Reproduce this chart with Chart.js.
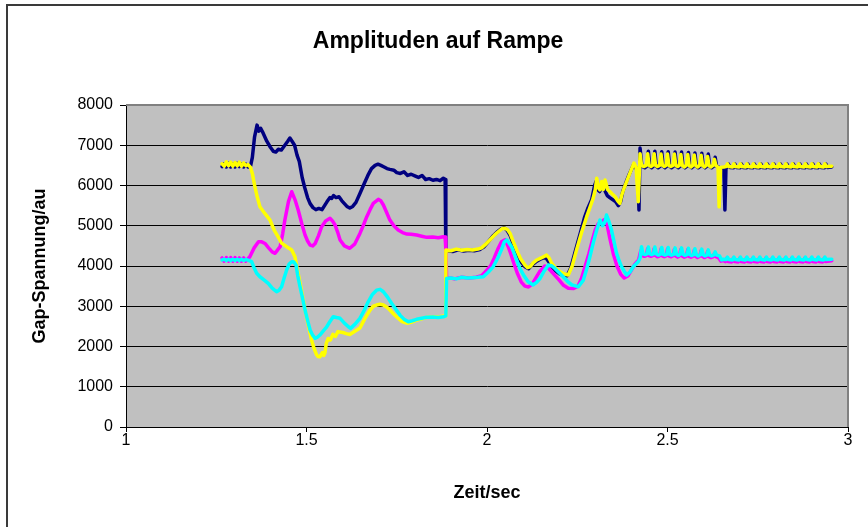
<!DOCTYPE html>
<html>
<head>
<meta charset="utf-8">
<script src="https://cdn.jsdelivr.net/npm/chart.js@4/dist/chart.umd.min.js"></script>
<style>
html,body{margin:0;padding:0;background:#fff;}
canvas{display:block;}
</style>
</head>
<body>
<canvas id="c" width="868" height="527"></canvas>
<script>
// ---- Data (time in s, amplitude in au) ----
const titleText = "Amplituden auf Rampe";
const xAxisTitle = "Zeit/sec";
const yAxisTitle = "Gap-Spannung/au";
const xTicks = [1, 1.5, 2, 2.5, 3];
const yTicks = [0, 1000, 2000, 3000, 4000, 5000, 6000, 7000, 8000];

const seriesNavy = [
 [1.266,6470],[1.272,6540],[1.278,6460],[1.284,6550],[1.290,6460],[1.296,6540],[1.302,6460],[1.308,6550],
 [1.314,6470],[1.320,6540],[1.326,6460],[1.332,6530],[1.338,6460],[1.345,6480],[1.350,6700],[1.356,7200],
 [1.363,7500],[1.368,7350],[1.373,7420],[1.380,7300],[1.390,7100],[1.400,6950],[1.408,6850],[1.415,6830],
 [1.422,6900],[1.430,6880],[1.440,7000],[1.448,7100],[1.454,7180],[1.460,7100],[1.467,7000],[1.474,6750],
 [1.480,6600],[1.488,6200],[1.495,5950],[1.503,5700],[1.510,5550],[1.518,5450],[1.526,5400],[1.534,5430],
 [1.543,5400],[1.550,5500],[1.557,5600],[1.565,5700],[1.570,5680],[1.575,5750],[1.582,5700],[1.590,5720],
 [1.598,5620],[1.605,5550],[1.612,5480],[1.620,5440],[1.628,5480],[1.637,5580],[1.648,5800],[1.660,6050],
 [1.670,6250],[1.680,6420],[1.690,6500],[1.698,6530],[1.706,6500],[1.715,6460],[1.723,6420],[1.731,6400],
 [1.742,6380],[1.750,6320],[1.760,6300],[1.770,6340],[1.780,6250],[1.790,6280],[1.800,6240],[1.810,6200],
 [1.820,6250],[1.830,6150],[1.840,6170],[1.850,6130],[1.860,6150],[1.870,6120],[1.879,6180],[1.884,6150],
 [1.886,4350],[1.890,4380],[1.905,4360],[1.920,4400],[1.935,4370],[1.950,4390],[1.965,4380],[1.980,4410],
 [1.992,4480],[2.005,4620],[2.018,4760],[2.030,4860],[2.040,4930],[2.048,4950],[2.056,4880],[2.064,4760],
 [2.073,4550],[2.082,4330],[2.093,4120],[2.105,3980],[2.115,3930],[2.125,4030],[2.138,4120],[2.150,4180],
 [2.162,4220],[2.170,4120],[2.178,4000],[2.190,3880],[2.202,3800],[2.214,3760],[2.222,3760],[2.232,3950],
 [2.244,4350],[2.258,4800],[2.270,5200],[2.280,5450],[2.290,5650],[2.298,6000],[2.302,6100],[2.306,5900],
 [2.312,5850],[2.318,5950],[2.325,5900],[2.333,5750],[2.340,5700],[2.348,5650],[2.356,5600],[2.364,5500],
 [2.370,5600],[2.376,5850],[2.386,6100],[2.395,6300],[2.405,6500],[2.412,6450],[2.418,6300],[2.421,5390],
 [2.424,6930],[2.429,6480],[2.437,6440],[2.443,6480],[2.447,6850],[2.451,6480],[2.456,6440],[2.461,6480],
 [2.465,6850],[2.469,6480],[2.474,6440],[2.480,6480],[2.484,6840],[2.488,6480],[2.493,6440],[2.498,6480],
 [2.502,6840],[2.506,6480],[2.511,6440],[2.517,6480],[2.521,6830],[2.525,6480],[2.530,6440],[2.535,6480],
 [2.539,6830],[2.543,6480],[2.548,6440],[2.554,6480],[2.558,6820],[2.562,6480],[2.567,6440],[2.572,6480],
 [2.576,6810],[2.580,6480],[2.585,6440],[2.591,6480],[2.595,6800],[2.599,6480],[2.604,6440],[2.609,6480],
 [2.613,6780],[2.617,6480],[2.622,6440],[2.628,6480],[2.632,6700],[2.636,6480],[2.645,6440],[2.652,6430],
 [2.656,6440],[2.659,5390],[2.662,6440],[2.665,6450],[2.669,6530],[2.673,6450],[2.683,6440],[2.687,6530],
 [2.691,6450],[2.701,6440],[2.705,6530],[2.709,6450],[2.719,6440],[2.723,6530],[2.727,6450],[2.737,6440],
 [2.741,6530],[2.745,6450],[2.755,6440],[2.759,6530],[2.763,6450],[2.773,6440],[2.777,6530],[2.781,6450],
 [2.791,6440],[2.795,6530],[2.799,6450],[2.809,6440],[2.813,6530],[2.817,6450],[2.827,6440],[2.831,6530],
 [2.835,6450],[2.845,6440],[2.849,6530],[2.853,6450],[2.863,6440],[2.867,6530],[2.871,6450],[2.881,6440],
 [2.885,6530],[2.889,6450],[2.899,6440],[2.903,6530],[2.907,6450],[2.917,6440],[2.921,6530],[2.925,6450],
 [2.935,6440],[2.939,6530],[2.943,6450],[2.955,6460]
];

const seriesMagenta = [
 [1.266,4200],[1.272,4120],[1.278,4210],[1.284,4120],[1.290,4210],[1.296,4120],[1.302,4210],[1.308,4120],
 [1.314,4200],[1.320,4120],[1.326,4200],[1.332,4120],[1.338,4180],[1.343,4230],[1.355,4450],[1.367,4600],
 [1.376,4600],[1.385,4560],[1.395,4450],[1.405,4350],[1.413,4315],[1.420,4400],[1.427,4480],[1.434,4800],
 [1.440,5140],[1.450,5600],[1.459,5845],[1.468,5650],[1.477,5390],[1.487,5050],[1.496,4770],[1.503,4620],
 [1.510,4520],[1.517,4500],[1.524,4560],[1.533,4750],[1.542,4975],[1.553,5120],[1.565,5185],[1.572,5120],
 [1.579,5020],[1.586,4850],[1.593,4645],[1.605,4500],[1.620,4440],[1.634,4550],[1.648,4810],[1.657,5000],
 [1.667,5225],[1.676,5400],[1.685,5557],[1.699,5655],[1.706,5620],[1.713,5515],[1.722,5330],[1.731,5140],
 [1.742,5000],[1.754,4893],[1.766,4830],[1.778,4794],[1.790,4790],[1.805,4770],[1.819,4740],[1.833,4712],
 [1.850,4720],[1.865,4700],[1.879,4727],[1.884,4720],[1.886,4400],[1.888,3690],[1.900,3700],[1.910,3680],
 [1.930,3720],[1.950,3700],[1.970,3720],[1.985,3760],[1.995,3850],[2.010,4000],[2.020,4200],[2.030,4420],
 [2.040,4600],[2.050,4650],[2.058,4500],[2.066,4300],[2.075,4050],[2.085,3800],[2.095,3600],[2.105,3500],
 [2.115,3480],[2.125,3550],[2.135,3700],[2.145,3850],[2.160,4000],[2.170,3950],[2.180,3850],[2.190,3750],
 [2.200,3650],[2.212,3520],[2.225,3450],[2.240,3440],[2.252,3500],[2.262,3700],[2.272,4000],[2.282,4300],
 [2.292,4650],[2.300,4900],[2.308,5050],[2.318,5100],[2.325,5150],[2.332,5050],[2.340,4700],[2.350,4300],
 [2.360,4000],[2.370,3800],[2.380,3700],[2.390,3750],[2.400,3900],[2.410,4050],[2.420,4150],[2.426,4380],
 [2.430,4260],[2.436,4240],[2.441,4260],[2.445,4430],[2.449,4260],[2.454,4240],[2.459,4260],[2.463,4430],
 [2.467,4260],[2.472,4230],[2.478,4250],[2.482,4420],[2.486,4250],[2.491,4230],[2.496,4250],[2.500,4420],
 [2.504,4250],[2.509,4230],[2.515,4250],[2.519,4410],[2.523,4250],[2.528,4220],[2.533,4250],[2.537,4410],
 [2.541,4250],[2.546,4220],[2.552,4240],[2.556,4400],[2.560,4240],[2.565,4220],[2.570,4240],[2.574,4390],
 [2.578,4240],[2.583,4210],[2.589,4240],[2.593,4380],[2.597,4240],[2.602,4210],[2.607,4230],[2.611,4360],
 [2.615,4230],[2.620,4210],[2.626,4230],[2.630,4310],[2.634,4230],[2.642,4200],[2.648,4120],[2.654,4140],
 [2.660,4110],[2.664,4190],[2.668,4110],[2.678,4100],[2.682,4190],[2.686,4110],[2.696,4100],[2.700,4190],
 [2.704,4110],[2.714,4100],[2.718,4190],[2.722,4110],[2.732,4100],[2.736,4190],[2.740,4110],[2.750,4100],
 [2.754,4190],[2.758,4110],[2.768,4100],[2.772,4190],[2.776,4110],[2.786,4100],[2.790,4190],[2.794,4110],
 [2.804,4100],[2.808,4190],[2.812,4110],[2.822,4100],[2.826,4190],[2.830,4110],[2.840,4100],[2.844,4190],
 [2.848,4110],[2.858,4100],[2.862,4190],[2.866,4110],[2.876,4100],[2.880,4190],[2.884,4110],[2.894,4100],
 [2.898,4190],[2.902,4110],[2.912,4100],[2.916,4190],[2.920,4110],[2.930,4100],[2.934,4190],[2.938,4110],
 [2.955,4130]
];

const seriesYellow = [
 [1.266,6540],[1.272,6480],[1.278,6590],[1.284,6490],[1.290,6580],[1.296,6480],[1.302,6570],[1.308,6490],
 [1.314,6580],[1.320,6480],[1.326,6560],[1.332,6490],[1.338,6520],[1.345,6450],[1.350,6300],[1.357,5970],
 [1.364,5700],[1.371,5470],[1.385,5300],[1.399,5140],[1.410,4900],[1.421,4730],[1.431,4570],[1.445,4480],
 [1.459,4400],[1.468,4230],[1.475,3900],[1.482,3575],[1.491,3150],[1.500,2740],[1.507,2450],[1.514,2160],
 [1.521,1950],[1.528,1790],[1.532,1750],[1.537,1745],[1.544,1850],[1.548,1780],[1.551,1840],[1.555,2085],
 [1.560,2200],[1.566,2160],[1.573,2300],[1.580,2250],[1.587,2370],[1.600,2350],[1.610,2320],[1.620,2300],
 [1.634,2380],[1.648,2460],[1.662,2700],[1.676,2906],[1.685,3000],[1.694,3030],[1.704,3050],[1.713,3030],
 [1.722,2980],[1.731,2906],[1.742,2800],[1.753,2710],[1.765,2620],[1.778,2580],[1.790,2600],[1.805,2660],
 [1.819,2690],[1.833,2725],[1.850,2740],[1.865,2730],[1.879,2760],[1.884,2760],[1.886,4400],[1.900,4380],
 [1.915,4420],[1.930,4390],[1.945,4410],[1.960,4400],[1.975,4420],[1.985,4450],[1.995,4530],[2.008,4645],
 [2.020,4760],[2.031,4850],[2.042,4930],[2.050,4935],[2.057,4900],[2.064,4810],[2.073,4600],[2.082,4400],
 [2.093,4180],[2.105,4025],[2.112,3960],[2.119,3980],[2.128,4080],[2.138,4150],[2.150,4200],[2.165,4270],
 [2.172,4200],[2.179,4070],[2.190,3950],[2.202,3860],[2.214,3800],[2.225,3775],[2.236,4000],[2.248,4400],
 [2.262,4830],[2.276,5225],[2.285,5450],[2.294,5680],[2.300,5900],[2.304,6180],[2.308,5950],[2.313,5890],
 [2.318,6100],[2.322,5900],[2.327,6135],[2.334,5900],[2.341,5845],[2.348,5780],[2.355,5720],[2.362,5620],
 [2.368,5557],[2.373,5750],[2.378,5890],[2.387,6100],[2.396,6310],[2.407,6558],[2.413,6450],[2.419,5596],
 [2.424,6790],[2.428,6500],[2.435,6470],[2.441,6500],[2.445,6790],[2.449,6500],[2.454,6470],[2.459,6500],
 [2.463,6790],[2.467,6500],[2.472,6470],[2.478,6500],[2.482,6780],[2.486,6500],[2.491,6470],[2.496,6500],
 [2.500,6780],[2.504,6500],[2.509,6470],[2.515,6500],[2.519,6780],[2.523,6500],[2.528,6470],[2.533,6500],
 [2.537,6770],[2.541,6500],[2.546,6460],[2.552,6500],[2.556,6770],[2.560,6500],[2.565,6460],[2.570,6500],
 [2.574,6760],[2.578,6500],[2.583,6460],[2.589,6500],[2.593,6750],[2.597,6500],[2.602,6460],[2.607,6500],
 [2.611,6720],[2.615,6500],[2.620,6460],[2.626,6500],[2.630,6650],[2.634,6500],[2.640,6450],[2.643,5470],
 [2.647,6450],[2.656,6460],[2.662,6470],[2.666,6540],[2.670,6470],[2.680,6460],[2.684,6540],[2.688,6470],
 [2.698,6460],[2.702,6540],[2.706,6470],[2.716,6460],[2.720,6540],[2.724,6470],[2.734,6460],[2.738,6540],
 [2.742,6470],[2.752,6460],[2.756,6540],[2.760,6470],[2.770,6460],[2.774,6540],[2.778,6470],[2.788,6460],
 [2.792,6540],[2.796,6470],[2.806,6460],[2.810,6540],[2.814,6470],[2.824,6460],[2.828,6540],[2.832,6470],
 [2.842,6460],[2.846,6540],[2.850,6470],[2.860,6460],[2.864,6540],[2.868,6470],[2.878,6460],[2.882,6540],
 [2.886,6470],[2.896,6460],[2.900,6540],[2.904,6470],[2.914,6460],[2.918,6540],[2.922,6470],[2.932,6460],
 [2.936,6540],[2.940,6470],[2.955,6480]
];

const seriesCyan = [
 [1.266,4150],[1.272,4170],[1.278,4140],[1.284,4170],[1.290,4140],[1.296,4170],[1.302,4140],[1.308,4170],
 [1.314,4140],[1.320,4170],[1.326,4140],[1.332,4160],[1.340,4140],[1.348,4107],[1.355,3950],[1.362,3820],
 [1.371,3733],[1.383,3650],[1.394,3568],[1.405,3450],[1.417,3360],[1.424,3400],[1.431,3485],[1.438,3700],
 [1.445,3900],[1.452,4050],[1.459,4107],[1.465,4100],[1.471,4025],[1.476,3750],[1.482,3485],[1.489,3200],
 [1.496,2906],[1.503,2650],[1.510,2410],[1.517,2280],[1.524,2203],[1.530,2230],[1.537,2285],[1.546,2380],
 [1.556,2490],[1.565,2620],[1.574,2740],[1.583,2720],[1.593,2700],[1.605,2580],[1.616,2490],[1.622,2450],
 [1.634,2550],[1.648,2700],[1.660,2900],[1.671,3110],[1.683,3300],[1.694,3400],[1.704,3420],[1.713,3360],
 [1.725,3220],[1.736,3070],[1.748,2920],[1.759,2780],[1.770,2680],[1.782,2615],[1.793,2640],[1.805,2675],
 [1.819,2700],[1.833,2725],[1.850,2730],[1.865,2720],[1.879,2740],[1.886,2760],[1.888,3690],[1.900,3700],
 [1.915,3680],[1.930,3720],[1.945,3700],[1.960,3710],[1.975,3720],[1.990,3733],[2.004,3850],[2.017,3980],
 [2.030,4200],[2.040,4400],[2.048,4600],[2.055,4645],[2.062,4560],[2.068,4480],[2.080,4200],[2.091,3940],
 [2.103,3750],[2.114,3610],[2.128,3530],[2.138,3600],[2.147,3690],[2.158,3870],[2.170,4025],[2.180,4000],
 [2.188,3940],[2.200,3830],[2.211,3733],[2.223,3620],[2.235,3530],[2.253,3485],[2.267,3650],[2.277,3950],
 [2.285,4230],[2.295,4600],[2.304,4895],[2.313,5140],[2.320,5000],[2.327,5100],[2.331,5265],[2.338,5100],
 [2.345,4893],[2.352,4600],[2.359,4315],[2.366,4130],[2.373,3980],[2.380,3870],[2.387,3775],[2.396,3850],
 [2.405,3980],[2.419,4107],[2.424,4200],[2.428,4480],[2.432,4300],[2.438,4280],[2.443,4300],[2.447,4470],
 [2.451,4300],[2.456,4280],[2.461,4300],[2.465,4470],[2.469,4300],[2.474,4270],[2.480,4290],[2.484,4460],
 [2.488,4290],[2.493,4270],[2.498,4290],[2.502,4460],[2.506,4290],[2.511,4270],[2.517,4290],[2.521,4450],
 [2.525,4290],[2.530,4260],[2.535,4290],[2.539,4450],[2.543,4290],[2.548,4260],[2.554,4280],[2.558,4440],
 [2.562,4280],[2.567,4260],[2.572,4280],[2.576,4430],[2.580,4280],[2.585,4250],[2.591,4280],[2.595,4420],
 [2.599,4280],[2.604,4250],[2.609,4270],[2.613,4400],[2.617,4270],[2.622,4250],[2.628,4270],[2.632,4350],
 [2.636,4270],[2.644,4250],[2.650,4150],[2.656,4170],[2.662,4160],[2.666,4220],[2.670,4160],[2.680,4150],
 [2.684,4220],[2.688,4160],[2.698,4150],[2.702,4220],[2.706,4160],[2.716,4150],[2.720,4220],[2.724,4160],
 [2.734,4150],[2.738,4220],[2.742,4160],[2.752,4150],[2.756,4220],[2.760,4160],[2.770,4150],[2.774,4220],
 [2.778,4160],[2.788,4150],[2.792,4220],[2.796,4160],[2.806,4150],[2.810,4220],[2.814,4160],[2.824,4150],
 [2.828,4220],[2.832,4160],[2.842,4150],[2.846,4220],[2.850,4160],[2.860,4150],[2.864,4220],[2.868,4160],
 [2.878,4150],[2.882,4220],[2.886,4160],[2.896,4150],[2.900,4220],[2.904,4160],[2.914,4150],[2.918,4220],
 [2.922,4160],[2.932,4150],[2.936,4220],[2.940,4160],[2.955,4170]
];

// ---- Chart ----
const FONT = "'Liberation Sans', Arial, sans-serif";
const toPts = arr => arr.map(p => ({x: p[0], y: p[1]}));

const framePlugin = {
  id: 'frame',
  beforeDraw(chart) {
    const {ctx, chartArea: a} = chart;
    ctx.save();
    ctx.fillStyle = '#ffffff';
    ctx.fillRect(0, 0, chart.width, chart.height);
    ctx.fillStyle = '#3a3a3a';
    ctx.fillRect(6, 4, chart.width - 6, 2);
    ctx.fillRect(6, 4, 2, chart.height - 4);
    ctx.fillStyle = '#c0c0c0';
    ctx.fillRect(a.left, a.top, a.right - a.left, a.bottom - a.top);
    ctx.restore();
  },
  beforeDatasetsDraw(chart) {
    const {ctx, chartArea: a} = chart;
    ctx.save();
    ctx.strokeStyle = '#808080';
    ctx.lineWidth = 2;
    ctx.beginPath();
    ctx.moveTo(a.left, a.top);
    ctx.lineTo(a.right, a.top);
    ctx.lineTo(a.right, a.bottom);
    ctx.stroke();
    ctx.restore();
  }
};

const mk = (data, color, order) => ({
  data: toPts(data), borderColor: color, backgroundColor: color,
  borderWidth: 3.5, pointRadius: 0, tension: 0, fill: false, order: order,
  borderJoinStyle: 'round', borderCapStyle: 'round'
});

new Chart(document.getElementById('c'), {
  type: 'line',
  data: {
    datasets: [
      mk(seriesNavy, '#000080', 3),
      mk(seriesMagenta, '#ff00ff', 2),
      mk(seriesYellow, '#ffff00', 1),
      mk(seriesCyan, '#00ffff', 0)
    ]
  },
  options: {
    responsive: false,
    animation: false,
    events: [],
    layout: {padding: {left: 8, right: 0, top: 0, bottom: 0}},
    plugins: {
      legend: {display: false},
      tooltip: {enabled: false},
      title: {
        display: true, text: titleText, color: '#000',
        font: {family: FONT, size: 23, weight: 'bold', lineHeight: 1.2},
        padding: {top: 28, bottom: 49.4}
      }
    },
    scales: {
      x: {
        type: 'linear', min: 1, max: 3,
        afterBuildTicks: s => { s.ticks = xTicks.map(v => ({value: v})); },
        afterFit: s => { s.height = 100; },
        ticks: {color: '#000', font: {family: FONT, size: 16}, padding: -1, maxRotation: 0,
                callback: v => String(v)},
        grid: {drawOnChartArea: false, drawTicks: true, tickLength: 5, tickColor: '#000'},
        border: {color: '#000', width: 1},
        title: {display: true, text: xAxisTitle, color: '#000',
                font: {family: FONT, size: 18, weight: 'bold', lineHeight: 1.2},
                padding: {top: 0, bottom: 23}}
      },
      y: {
        type: 'linear', min: 0, max: 8000,
        afterBuildTicks: s => { s.ticks = yTicks.map(v => ({value: v})); },
        afterFit: s => { s.width = 118; },
        ticks: {color: '#000', font: {family: FONT, size: 16}, padding: 7,
                callback: v => String(v)},
        grid: {color: ctx => (ctx.tick && ctx.tick.value === 8000) ? '#808080' : '#000',
               lineWidth: 1, drawTicks: true, tickLength: 6, tickColor: '#000'},
        border: {color: '#000', width: 1},
        title: {display: true, text: yAxisTitle, color: '#000',
                font: {family: FONT, size: 18, weight: 'bold', lineHeight: 1.2},
                padding: {top: 21, bottom: 0}}
      },
      yr: {
        position: 'right', type: 'linear', min: 0, max: 8000, display: true,
        afterFit: s => { s.width = 20; },
        ticks: {display: false}, grid: {display: false}, border: {display: false}
      }
    }
  },
  plugins: [framePlugin]
});
</script>
</body>
</html>
